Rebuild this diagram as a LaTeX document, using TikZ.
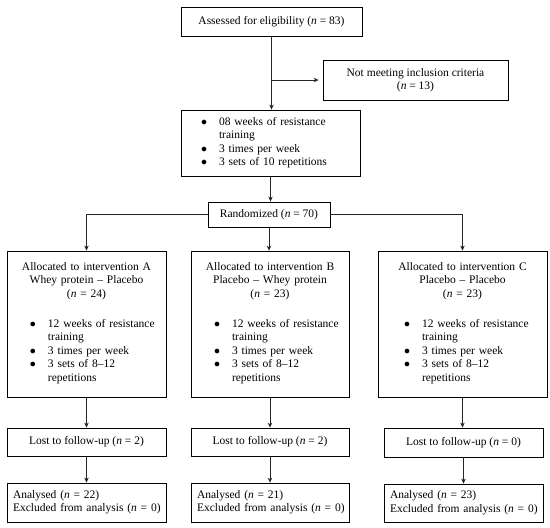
\documentclass[tikz,border=0pt]{standalone}
\usepackage{fontspec}
\setmainfont{Liberation Serif}
\usepackage{array}
\usepackage{tikz}
\usetikzlibrary{shapes.geometric, arrows.meta}
\tikzstyle{arrow} = [line width=0.7pt,->,>={Stealth[length=5pt,width=4.5pt]},black!85]
\tikzstyle{box} = [draw,line width=0.8pt,inner sep=0pt,font=\fontsize{11.5}{13.5}\selectfont]
\tikzstyle{armbox} = [box,minimum width=159pt,text width=159pt,align=left]

% bullet list set as a two column table
\newcommand{\dotlist}[1]{\begin{tabular}[t]{@{}c@{\hspace{12pt}}>{\raggedright\arraybackslash}p{108pt}@{}}#1\end{tabular}}
\newcommand{\bdot}{$\bullet$}
% left aligned lines
\newcommand{\leftlines}[1]{\hspace*{6pt}\begin{tabular}[t]{@{}l@{}}#1\end{tabular}}

\begin{document}
\begin{tikzpicture}[x=1pt,y=-1pt]
				\useasboundingbox (0,0) rectangle (550,528);
				
				% Screening:
				\node[box,minimum width=181pt,minimum height=29pt] (assess) at (271.5,21.5) {Assessed for eligibility (\textit{n} = 83)};
				\node[box,minimum width=185pt,minimum height=40pt,align=center] (excl) at (415.5,80) {Not meeting inclusion criteria\\(\textit{n} = 13)};
				\node[box,minimum width=179pt,minimum height=66pt,text width=179pt,align=left] (train) at (270.5,143) {\hspace*{20pt}\dotlist{\bdot & 08 weeks of resistance training\\ \bdot & 3 times per week\\ \bdot & 3 sets of 10 repetitions}};
				\node[box,minimum width=122pt,minimum height=25pt] (random) at (269,214.5) {Randomized (\textit{n} = 70)};
				
				% Allocation:
				\node[armbox,minimum height=146pt] (allocA) at (86.5,324) {{\centering Allocated to intervention A\\Whey protein -- Placebo\\(\textit{n} = 24)\par}\vspace{16.5pt}\hspace*{23pt}\dotlist{\bdot & 12 weeks of resistance training\\ \bdot & 3 times per week\\ \bdot & 3 sets of 8--12 repetitions}};
				\node[armbox,minimum width=158pt,text width=158pt,minimum height=146pt] (allocB) at (270,324) {{\centering Allocated to intervention B\\Placebo -- Whey protein\\(\textit{n} = 23)\par}\vspace{16.5pt}\hspace*{23pt}\dotlist{\bdot & 12 weeks of resistance training\\ \bdot & 3 times per week\\ \bdot & 3 sets of 8--12 repetitions}};
				\node[armbox,minimum width=169pt,text width=169pt,minimum height=146pt] (allocC) at (462.5,324) {{\centering Allocated to intervention C\\Placebo -- Placebo\\(\textit{n} = 23)\par}\vspace{16.5pt}\hspace*{26pt}\dotlist{\bdot & 12 weeks of resistance training\\ \bdot & 3 times per week\\ \bdot & 3 sets of 8--12 repetitions}};
				
				% Follow-up:
				\node[box,minimum width=159pt,minimum height=28pt] (lostA) at (86.5,442) {Lost to follow-up (\textit{n} = 2)};
				\node[box,minimum width=158pt,minimum height=28pt] (lostB) at (270,442) {Lost to follow-up (\textit{n} = 2)};
				\node[box,minimum width=159pt,minimum height=29pt] (lostC) at (463.5,442.5) {Lost to follow-up (\textit{n} = 0)};
				
				% Analysis:
				\node[armbox,minimum height=39pt] (anA) at (86.5,502.5) {\leftlines{Analysed (\textit{n} = 22)\\Excluded from analysis (\textit{n} = 0)}};
				\node[armbox,minimum width=158pt,text width=158pt,minimum height=39pt] (anB) at (270,502.5) {\leftlines{Analysed (\textit{n} = 21)\\Excluded from analysis (\textit{n} = 0)}};
				\node[armbox,minimum height=38pt] (anC) at (463.5,503) {\leftlines{Analysed (\textit{n} = 23)\\Excluded from analysis (\textit{n} = 0)}};
				
				% Connectors:
				\draw [arrow] (assess.south) -- (assess.south |- train.north);
				\draw [arrow,shorten >=4pt] (assess.south |- excl.west) -- (excl.west);
				\draw [arrow] (train.south) -- (train.south |- random.north);
				\draw [arrow] (random.west) -| (allocA.north);
				\draw [arrow] (random.south) -- (random.south |- allocB.north);
				\draw [arrow] (random.east) -| (allocC.north);
				\draw [arrow] (allocA.south) -- (lostA.north);
				\draw [arrow] (allocB.south) -- (lostB.north);
				\draw [arrow] (allocC.south) -- (allocC.south |- lostC.north);
				\draw [arrow] (lostA.south) -- (anA.north);
				\draw [arrow] (lostB.south) -- (anB.north);
				\draw [arrow] (lostC.south) -- (lostC.south |- anC.north);
\end{tikzpicture}
\end{document}
